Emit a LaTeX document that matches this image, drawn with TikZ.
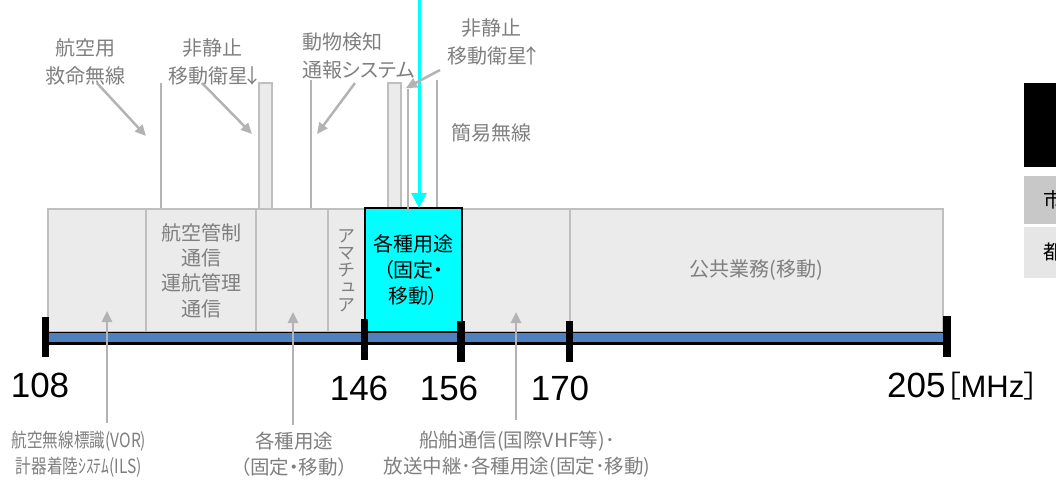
\documentclass[tikz,border=0pt]{standalone}
\usepackage{fontspec}
\usepackage{graphicx}
\setmainfont{Noto Sans CJK JP}[RawFeature=+palt]
\newfontfamily\numf{Liberation Sans}
\newfontfamily\vtjp{Noto Sans CJK JP}[RawFeature=+vert]
\newcommand\myvtfont{\vtjp\fontsize{18}{17.3}\selectfont\lineskiplimit=-30pt\relax}
\usetikzlibrary{arrows.meta}
\definecolor{bandfill}{HTML}{EBEBEB}
\definecolor{bandline}{HTML}{BFBFBF}
\definecolor{txtgray}{HTML}{7F7F7F}
\definecolor{annline}{HTML}{B3B3B3}
\definecolor{barblue}{HTML}{4F81BD}
\definecolor{cyanc}{HTML}{00FFFF}
\definecolor{cellA}{HTML}{C8C8C8}
\definecolor{cellB}{HTML}{E6E6E6}
\begin{document}
\begin{tikzpicture}[x=1pt,y=-1pt,
  bandbox/.style={fill=bandfill,draw=bandline,line width=2pt,inner sep=0pt,
    minimum height=123pt,text=txtgray,align=center,font=\fontsize{20}{25.3}\selectfont},
  cyanbox/.style={fill=cyanc,draw=black,line width=2pt,inner sep=0pt,
    minimum height=124pt,minimum width=97pt,text=black,align=center,font=\fontsize{20}{26}\selectfont},
  lbl/.style={text=txtgray,font=\fontsize{20}{28}\selectfont,align=center,inner sep=0pt},
  botlbl/.style={text=txtgray,font=\fontsize{19.5}{26}\selectfont,align=center,inner sep=0pt},
  num/.style={font=\numf\fontsize{35}{40}\selectfont,inner sep=0pt,anchor=base},
  vline/.style={draw=annline,line width=2.5pt},
  narrowbox/.style={fill=bandfill,draw=bandline,line width=2pt},
  annot/.style={draw=annline,line width=2.5pt,-{Triangle[length=11pt,width=10pt,fill=annline]}},
  cyanarrow/.style={draw=cyanc,line width=3pt,-{Triangle[length=15pt,width=15pt,fill=cyanc]}},
  cellnode/.style={inner sep=0pt,font=\fontsize{20}{24}\selectfont,text=black}
]
\useasboundingbox (0,0) rectangle (1056,483);
\clip (0,0) rectangle (1056,483);

% ---- top vertical lines and narrow bands
\coordinate (v1t) at (161,83);  \coordinate (v1b) at (161,209);
\coordinate (v2t) at (311,80);  \coordinate (v2b) at (311,209);
\coordinate (v3t) at (408,89);  \coordinate (v3b) at (408,212);
\coordinate (v4t) at (437,80);  \coordinate (v4b) at (437,208);
\draw[vline] (v1t) -- (v1b);
\draw[vline] (v2t) -- (v2b);
\draw[vline] (v4t) -- (v4b);
\draw[narrowbox] (259,83) rectangle (272,209);
\draw[narrowbox] (388,83) rectangle (401,209);

% ---- band boxes
\node[bandbox,minimum width=98pt]  (b1) at (97,270.5) {};
\node[bandbox,minimum width=110pt] (b2) at (201,270.5) {航空管制\\通信\\運航管理\\通信};
\node[bandbox,minimum width=72pt]  (b3) at (292,270.5) {};
\node[bandbox,minimum width=37pt,font=\myvtfont] (b4) at (346.5,270.5) {ア\\マ\\チ\\ュ\\ア};
\node[bandbox,minimum width=108pt] (b6) at (516,270.5) {};
\node[bandbox,minimum width=373pt] (b7) at (756.5,270.5) {公共業務(移動)};
\node[cyanbox] (cy) at (413.5,270) {各種用途\\（固定・\\移動）};
\draw[vline] (v3t) -- (v3b);

% ---- cyan arrow
\coordinate (cyt) at (419,-2);
\coordinate (cyb) at (419,208);
\draw[cyanarrow] (cyt) -- (cyb);

% ---- axis bar
\fill[barblue] (49,332) rectangle (943,343);
\draw[black,line width=1pt] (49,332) -- (943,332);
\draw[black,line width=2.2pt] (49,343.5) -- (943,343.5);
\fill[black] (42,317) rectangle (49,357);
\fill[black] (361,319) rectangle (368,360);
\fill[black] (457,321) rectangle (465,362);
\fill[black] (566,321) rectangle (573,362);
\fill[black] (943,316) rectangle (951,357);

% ---- numbers
\node[num] (n108) at (40,397) {108};
\node[num] (n146) at (359,400) {146};
\node[num] (n156) at (449,400) {156};
\node[num] (n170) at (560,400) {170};
\node[num,anchor=base west] (n205) at (887,397) {205{\fontsize{30}{40}\selectfont\rmfamily［}{\fontsize{31}{40}\selectfont MHz}{\fontsize{30}{40}\selectfont\rmfamily］}};

% ---- top labels
\node[lbl] (t1) at (85,62) {航空用\\救命無線};
\node[lbl] (t2) at (212,62) {非静止\\移動衛星\kern-6pt↓\kern-6pt};
\node[lbl,align=left,anchor=west] (t3) at (302,55.5) {動物検知\\通報システム};
\node[lbl] (t4) at (491,42) {非静止\\移動衛星\kern-6pt↑\kern-6pt};
\node[lbl] (t5) at (491,133) {簡易無線};

% ---- top annotation arrows
\coordinate (a1s) at (97,83);  \coordinate (a1e) at (146,136);
\coordinate (a2s) at (202,83); \coordinate (a2e) at (252,134);
\coordinate (a3s) at (355,83); \coordinate (a3e) at (317,134);
\coordinate (a4s) at (440,70); \coordinate (a4e) at (406,88);
\draw[annot] (a1s) -- (a1e);
\draw[annot] (a2s) -- (a2e);
\draw[annot] (a3s) -- (a3e);
\draw[annot] (a4s) -- (a4e);

% ---- bottom labels and arrows
\node[botlbl] (bl1) at (79,454) {\scalebox{0.8}[1]{航空無線標識(VOR)}\\\scalebox{0.8}[1]{計器着陸ｼｽﾃﾑ(ILS)}};
\node[botlbl] (bl2) at (294,454) {各種用途\\（固定・移動）};
\node[botlbl] (bl3) at (517,454) {船舶通信(国際VHF等)･\\放送中継･各種用途(固定･移動)};
\coordinate (c1s) at (107,423); \coordinate (c1e) at (107,311);
\coordinate (c2s) at (293,425); \coordinate (c2e) at (293,312);
\coordinate (c3s) at (516,420); \coordinate (c3e) at (516,312);
\draw[annot] (c1s) -- (c1e);
\draw[annot] (c2s) -- (c2e);
\draw[annot] (c3s) -- (c3e);

% ---- right table (cut off as in the reference)
\fill[black] (1024,83) rectangle (1060,167);
\fill[cellA] (1024,176) rectangle (1060,224);
\fill[cellB] (1024,227) rectangle (1060,278);
\node[cellnode] (shi) at (1053,200) {市};
\node[cellnode] (to) at (1053,252) {都};
\end{tikzpicture}
\end{document}
